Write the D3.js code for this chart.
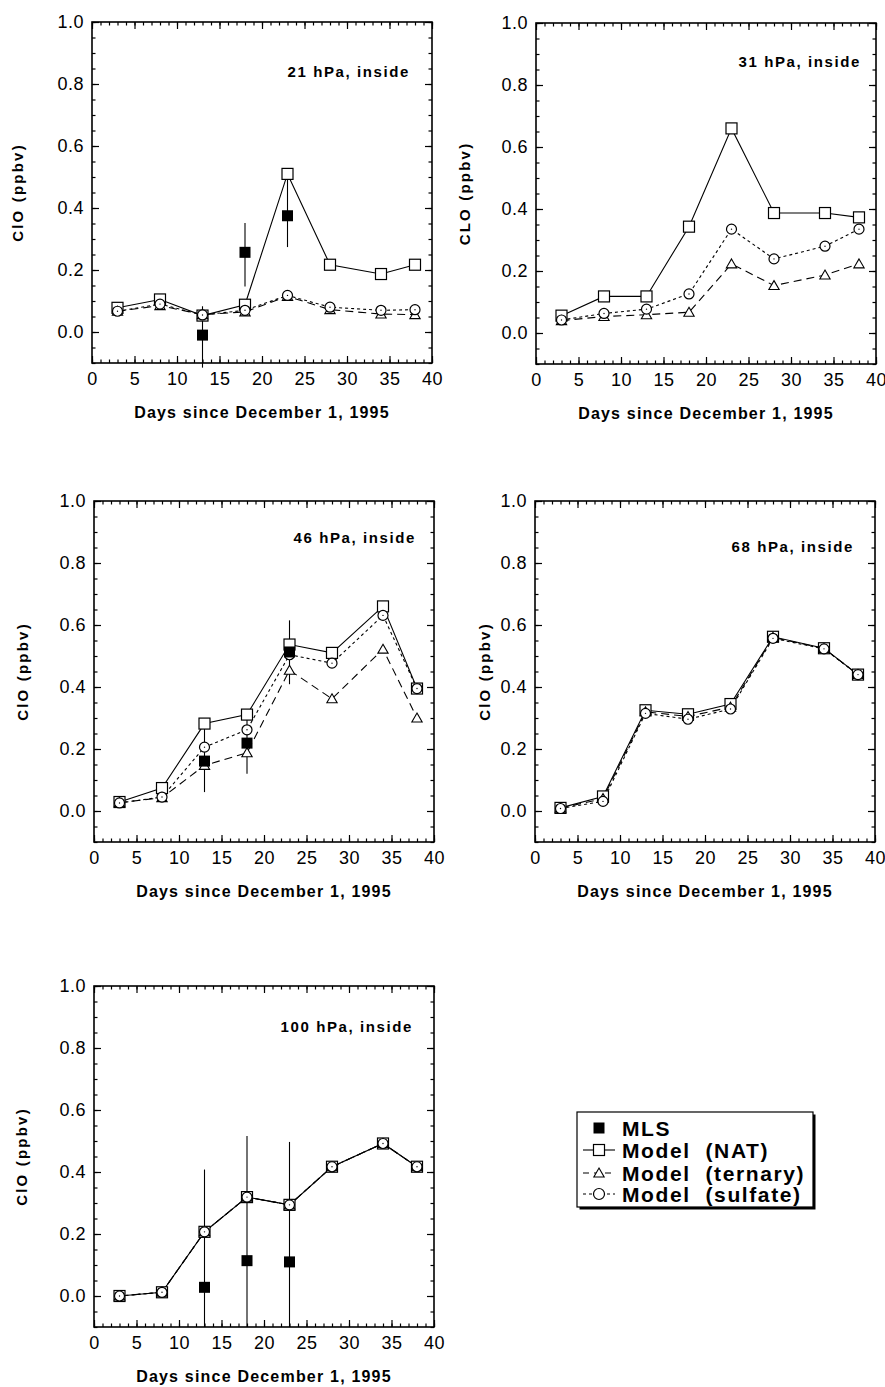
<!DOCTYPE html>
<html>
<head>
<meta charset="utf-8">
<script src="https://cdn.jsdelivr.net/npm/d3@7"></script>
<style>
  body { margin: 0; background: #fff; }
  svg { font-family: "Liberation Sans", Arial, Helvetica, sans-serif; }
</style>
</head>
<body>
<div id="chart-container"></div>
<script>
// Chart values
const days = [3, 8, 13, 18, 23, 28, 34, 38];

// 21 hPa
const nat21 = [0.078, 0.105, 0.053, 0.088, 0.51, 0.217, 0.187, 0.217];
const ternary21 = [0.067, 0.085, 0.056, 0.065, 0.115, 0.072, 0.058, 0.056];
const sulfate21 = [0.067, 0.09, 0.055, 0.07, 0.118, 0.08, 0.07, 0.072];
const mlsDays21 = [13, 18, 23];
const mls21 = [-0.01, 0.257, 0.375];
const mlsLow21 = [-0.115, 0.147, 0.274];
const mlsHigh21 = [0.083, 0.352, 0.50];

// 31 hPa
const nat31 = [0.056, 0.118, 0.118, 0.343, 0.66, 0.387, 0.387, 0.373];
const ternary31 = [0.04, 0.053, 0.059, 0.067, 0.223, 0.153, 0.187, 0.223];
const sulfate31 = [0.042, 0.063, 0.077, 0.126, 0.335, 0.239, 0.28, 0.335];

// 46 hPa
const nat46 = [0.029, 0.074, 0.282, 0.311, 0.537, 0.51, 0.66, 0.395];
const ternary46 = [0.027, 0.043, 0.147, 0.188, 0.454, 0.362, 0.522, 0.30];
const sulfate46 = [0.026, 0.045, 0.206, 0.262, 0.504, 0.477, 0.631, 0.395];
const mlsDays46 = [13, 18, 23];
const mls46 = [0.161, 0.219, 0.513];
const mlsLow46 = [0.061, 0.12, 0.409];
const mlsHigh46 = [0.265, 0.32, 0.615];

// 68 hPa
const nat68 = [0.01, 0.047, 0.325, 0.312, 0.345, 0.562, 0.525, 0.44];
const ternary68 = [0.009, 0.04, 0.32, 0.305, 0.335, 0.56, 0.524, 0.44];
const sulfate68 = [0.008, 0.031, 0.315, 0.296, 0.329, 0.557, 0.523, 0.44];

// 100 hPa
const nat100 = [0.0, 0.012, 0.207, 0.319, 0.294, 0.417, 0.492, 0.417];
const ternary100 = [0.0, 0.012, 0.207, 0.319, 0.294, 0.417, 0.492, 0.417];
const sulfate100 = [0.0, 0.012, 0.207, 0.319, 0.294, 0.417, 0.492, 0.417];
const mlsDays100 = [13, 18, 23];
const mls100 = [0.028, 0.114, 0.11];
const mlsLow100 = [-0.1, -0.1, -0.1];
const mlsHigh100 = [0.408, 0.516, 0.497];

const xTicks = [0, 5, 10, 15, 20, 25, 30, 35, 40];
const yTicks = [0.0, 0.2, 0.4, 0.6, 0.8, 1.0];
const legendLabels = ['MLS', 'Model  (NAT)', 'Model  (ternary)', 'Model  (sulfate)'];

function mlsRows(d, v, lo, hi) {
  return d.map((day, i) => ({ day, v: v[i], lo: lo[i], hi: hi[i] }));
}

const panels = [
  { title: '21 hPa, inside', ylabel: 'ClO (ppbv)', nat: nat21, ternary: ternary21, sulfate: sulfate21,
    mls: mlsRows(mlsDays21, mls21, mlsLow21, mlsHigh21),
    x0: 92, y0: 22, labelDx: -74, titleDx: 22, titleDy: 55 },
  { title: '31 hPa, inside', ylabel: 'CLO (ppbv)', nat: nat31, ternary: ternary31, sulfate: sulfate31,
    mls: [], x0: 536, y0: 23, labelDx: -71, titleDx: 15, titleDy: 44 },
  { title: '46 hPa, inside', ylabel: 'ClO (ppbv)', nat: nat46, ternary: ternary46, sulfate: sulfate46,
    mls: mlsRows(mlsDays46, mls46, mlsLow46, mlsHigh46),
    x0: 94, y0: 501, labelDx: -71, titleDx: 18, titleDy: 42 },
  { title: '68 hPa, inside', ylabel: 'ClO (ppbv)', nat: nat68, ternary: ternary68, sulfate: sulfate68,
    mls: [], x0: 535, y0: 501, labelDx: -50, titleDx: 21, titleDy: 51 },
  { title: '100 hPa, inside', ylabel: 'ClO (ppbv)', nat: nat100, ternary: ternary100, sulfate: sulfate100,
    mls: mlsRows(mlsDays100, mls100, mlsLow100, mlsHigh100),
    x0: 94, y0: 986, labelDx: -72, titleDx: 21, titleDy: 46 }
];

const svgWidth = 885;
const svgHeight = 1387;
const plotW = 340;
const plotH = 341;

const svg = d3.select('#chart-container')
  .append('svg')
  .attr('width', svgWidth)
  .attr('height', svgHeight);

const xScale = d3.scaleLinear().domain([0, 40]).range([0, plotW]);
const yScale = d3.scaleLinear().domain([-0.1, 1.0]).range([plotH, 0]);

const minorX = d3.range(0, 41, 1);
const minorY = d3.range(-0.1, 1.0001, 0.05).map(v => +v.toFixed(2));

const triangle = d3.symbol().type(d3.symbolTriangle).size(46);

function styleAxis(g) {
  g.select('.domain').remove();
  g.selectAll('line').attr('stroke', '#000').attr('stroke-width', 1.2);
}

panels.forEach(p => {
  const g = svg.append('g').attr('transform', `translate(${p.x0},${p.y0})`);

  // minor ticks, all four sides, pointing in
  g.append('g').attr('transform', `translate(0,${plotH})`)
    .call(d3.axisBottom(xScale).tickValues(minorX).tickSizeInner(-3.5).tickSizeOuter(0).tickFormat(''))
    .call(styleAxis);
  g.append('g')
    .call(d3.axisTop(xScale).tickValues(minorX).tickSizeInner(-3.5).tickSizeOuter(0).tickFormat(''))
    .call(styleAxis);
  g.append('g')
    .call(d3.axisLeft(yScale).tickValues(minorY).tickSizeInner(-3.5).tickSizeOuter(0).tickFormat(''))
    .call(styleAxis);
  g.append('g').attr('transform', `translate(${plotW},0)`)
    .call(d3.axisRight(yScale).tickValues(minorY).tickSizeInner(-3.5).tickSizeOuter(0).tickFormat(''))
    .call(styleAxis);

  // major ticks with labels
  g.append('g').attr('transform', `translate(0,${plotH})`)
    .call(d3.axisBottom(xScale).tickValues(xTicks).tickSizeInner(-7).tickSizeOuter(0).tickPadding(9))
    .call(styleAxis)
    .selectAll('text').attr('fill', '#000').style('font-size', '18px').style('letter-spacing', '0.5px');
  g.append('g')
    .call(d3.axisTop(xScale).tickValues(xTicks).tickSizeInner(-7).tickSizeOuter(0).tickFormat(''))
    .call(styleAxis);
  g.append('g')
    .call(d3.axisLeft(yScale).tickValues(yTicks).tickSizeInner(-7).tickSizeOuter(0).tickPadding(8).tickFormat(d3.format('.1f')))
    .call(styleAxis)
    .selectAll('text').attr('fill', '#000').style('font-size', '18px').style('letter-spacing', '0.5px');
  g.append('g').attr('transform', `translate(${plotW},0)`)
    .call(d3.axisRight(yScale).tickValues(yTicks).tickSizeInner(-7).tickSizeOuter(0).tickFormat(''))
    .call(styleAxis);

  // frame
  g.append('rect')
    .attr('width', plotW).attr('height', plotH)
    .attr('fill', 'none').attr('stroke', '#000').attr('stroke-width', 1.6);

  // axis titles
  g.append('text')
    .attr('x', plotW / 2).attr('y', plotH + 55)
    .attr('text-anchor', 'middle')
    .style('font-size', '16px').style('font-weight', 'bold').style('letter-spacing', '1.2px')
    .text('Days since December 1, 1995');
  g.append('text')
    .attr('transform', `translate(${p.labelDx},${plotH / 2}) rotate(-90)`)
    .attr('text-anchor', 'middle').attr('dy', '0.35em')
    .style('font-size', '15px').style('font-weight', 'bold').style('letter-spacing', '2.2px')
    .text(p.ylabel);
  g.append('text')
    .attr('x', plotW - p.titleDx).attr('y', p.titleDy)
    .attr('text-anchor', 'end')
    .style('font-size', '15px').style('font-weight', 'bold').style('letter-spacing', '1.6px')
    .style('white-space', 'pre')
    .text(p.title);

  const line = d3.line().x(d => xScale(d[0])).y(d => yScale(d[1]));
  const pts = arr => days.map((d, i) => [d, arr[i]]);

  // model lines
  g.append('path').attr('d', line(pts(p.sulfate)))
    .attr('fill', 'none').attr('stroke', '#000').attr('stroke-width', 1.1).attr('stroke-dasharray', '3,3');
  g.append('path').attr('d', line(pts(p.ternary)))
    .attr('fill', 'none').attr('stroke', '#000').attr('stroke-width', 1.1).attr('stroke-dasharray', '8,5');
  g.append('path').attr('d', line(pts(p.nat)))
    .attr('fill', 'none').attr('stroke', '#000').attr('stroke-width', 1.1);

  // MLS error bars
  g.selectAll('.err').data(p.mls).enter().append('line')
    .attr('x1', d => xScale(d.day)).attr('x2', d => xScale(d.day))
    .attr('y1', d => yScale(d.lo)).attr('y2', d => yScale(d.hi))
    .attr('stroke', '#000').attr('stroke-width', 1.1);

  // NAT squares
  g.selectAll('.sq').data(pts(p.nat)).enter().append('rect')
    .attr('x', d => xScale(d[0]) - 5.5).attr('y', d => yScale(d[1]) - 5.5)
    .attr('width', 11).attr('height', 11)
    .attr('fill', '#fff').attr('stroke', '#000').attr('stroke-width', 1.2);

  // ternary triangles
  g.selectAll('.tri').data(pts(p.ternary)).enter().append('path')
    .attr('d', triangle)
    .attr('transform', d => `translate(${xScale(d[0])},${yScale(d[1]) + 1})`)
    .attr('fill', '#fff').attr('stroke', '#000').attr('stroke-width', 1.1);

  // sulfate circles
  g.selectAll('.circ').data(pts(p.sulfate)).enter().append('circle')
    .attr('cx', d => xScale(d[0])).attr('cy', d => yScale(d[1])).attr('r', 5)
    .attr('fill', '#fff').attr('stroke', '#000').attr('stroke-width', 1.2);
  g.selectAll('.dot').data(pts(p.sulfate)).enter().append('circle')
    .attr('cx', d => xScale(d[0])).attr('cy', d => yScale(d[1])).attr('r', 0.7)
    .attr('fill', '#000');

  // MLS filled squares
  g.selectAll('.mls').data(p.mls).enter().append('rect')
    .attr('x', d => xScale(d.day) - 5.5).attr('y', d => yScale(d.v) - 5.5)
    .attr('width', 11).attr('height', 11)
    .attr('fill', '#000');
});

// Legend
const lg = svg.append('g').attr('transform', 'translate(577,1112)');
lg.append('rect').attr('x', 2.5).attr('y', 2.5).attr('width', 236).attr('height', 95).attr('fill', '#000');
lg.append('rect').attr('width', 236).attr('height', 95).attr('fill', '#fff').attr('stroke', '#000').attr('stroke-width', 1.2);

const rowY = [16, 38, 61, 82];
const symX = 22;
legendLabels.forEach((label, i) => {
  const y = rowY[i];
  if (i === 1) {
    lg.append('line').attr('x1', 6).attr('x2', 38).attr('y1', y).attr('y2', y).attr('stroke', '#000').attr('stroke-width', 1.1);
    lg.append('rect').attr('x', symX - 5.5).attr('y', y - 5.5).attr('width', 11).attr('height', 11)
      .attr('fill', '#fff').attr('stroke', '#000').attr('stroke-width', 1.2);
  } else if (i === 2) {
    lg.append('line').attr('x1', 6).attr('x2', 38).attr('y1', y).attr('y2', y).attr('stroke', '#000')
      .attr('stroke-width', 1.1).attr('stroke-dasharray', '6,5');
    lg.append('path').attr('d', triangle).attr('transform', `translate(${symX},${y + 1})`)
      .attr('fill', '#fff').attr('stroke', '#000').attr('stroke-width', 1.1);
  } else if (i === 3) {
    lg.append('line').attr('x1', 6).attr('x2', 38).attr('y1', y).attr('y2', y).attr('stroke', '#000')
      .attr('stroke-width', 1.1).attr('stroke-dasharray', '3,3');
    lg.append('circle').attr('cx', symX).attr('cy', y).attr('r', 5.5)
      .attr('fill', '#fff').attr('stroke', '#000').attr('stroke-width', 1.2);
  } else {
    lg.append('rect').attr('x', symX - 5.5).attr('y', y - 5.5).attr('width', 11).attr('height', 11).attr('fill', '#000');
  }
  lg.append('text')
    .attr('x', 45).attr('y', y + 7.5)
    .style('font-size', '21px').style('font-weight', 'bold').style('letter-spacing', '1.6px')
    .style('white-space', 'pre')
    .text(label);
});
</script>
</body>
</html>
